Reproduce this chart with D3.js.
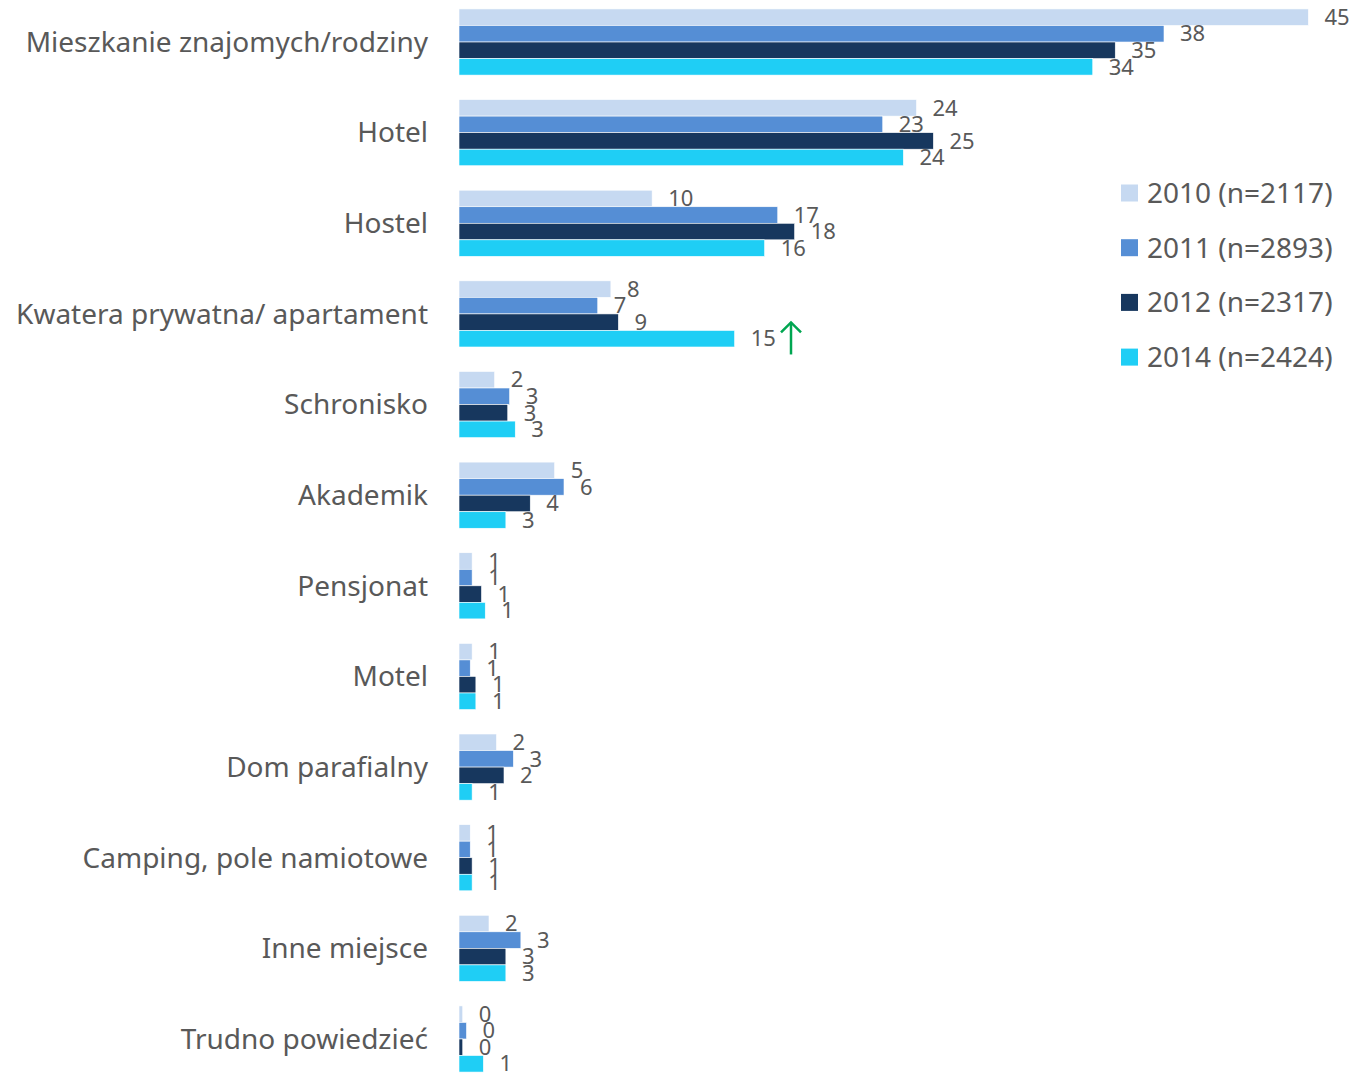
<!DOCTYPE html>
<html>
<head>
<meta charset="utf-8" />
<title>Miejsce noclegu</title>
<script src="https://cdn.jsdelivr.net/npm/d3@7/dist/d3.min.js"></script>
<style>
  body { margin: 0; background: #fff; }
  text { font-family: "Noto Sans", "Open Sans", sans-serif; fill: #595959; }
</style>
</head>
<body>
<script>
  var width = 1360, height = 1073;

  var categories = ["Mieszkanie znajomych/rodziny", "Hotel", "Hostel",
    "Kwatera prywatna/ apartament", "Schronisko", "Akademik", "Pensjonat",
    "Motel", "Dom parafialny", "Camping, pole namiotowe", "Inne miejsce",
    "Trudno powiedzieć"];

  var series = ["2010 (n=2117)", "2011 (n=2893)", "2012 (n=2317)", "2014 (n=2424)"];
  var colors = ["#C6D9F1", "#558ED5", "#17375E", "#1FCEF5"];

  // values, labels show them rounded
  var v2010 = [45.3, 24.4, 10.3, 8.1, 1.9, 5.1, 0.7, 0.7, 2.0, 0.6, 1.6, 0.2];
  var v2011 = [37.6, 22.6, 17.0, 7.4, 2.7, 5.6, 0.7, 0.6, 2.9, 0.6, 3.3, 0.4];
  var v2012 = [35.0, 25.3, 17.9, 8.5, 2.6, 3.8, 1.2, 0.9, 2.4, 0.7, 2.5, 0.2];
  var v2014 = [33.8, 23.7, 16.3, 14.7, 3.0, 2.5, 1.4, 0.9, 0.7, 0.7, 2.5, 1.3];
  var values = [v2010, v2011, v2012, v2014];

  var svg = d3.select("body").append("svg")
      .attr("width", width)
      .attr("height", height);

  var x = d3.scaleLinear().domain([0, 50]).range([459, 459 + 50 * 18.75]);

  var y = d3.scaleBand().domain(categories)
      .range([-3.3, 1084.3])
      .paddingInner(0.27)
      .paddingOuter(0.135);

  var ySub = d3.scaleBand().domain(series).range([0, y.bandwidth()]);

  var groups = svg.selectAll("g.cat")
      .data(categories)
      .enter().append("g")
      .attr("class", "cat")
      .attr("transform", function(d) { return "translate(0," + y(d) + ")"; });

  groups.append("text")
      .attr("x", 428)
      .attr("y", y.bandwidth() / 2)
      .attr("dy", "0.35em")
      .attr("text-anchor", "end")
      .style("font-size", "28px")
      .text(function(d) { return d; });

  groups.each(function(cat, ci) {
    var g = d3.select(this);
    series.forEach(function(s, si) {
      var val = values[si][ci];
      g.append("rect")
        .attr("x", x(0))
        .attr("y", ySub(s))
        .attr("width", x(val) - x(0))
        .attr("height", ySub.bandwidth())
        .attr("fill", colors[si])
        .attr("stroke", "#fff")
        .attr("stroke-width", 0.6);
      g.append("text")
        .attr("x", x(val) + 16)
        .attr("y", ySub(s) + ySub.bandwidth() / 2)
        .attr("dy", "0.35em")
        .style("font-size", "22px")
        .text(Math.round(val));
    });
  });

  // green arrow for Kwatera 2014
  var ka = y(categories[3]) + ySub(series[3]);
  var arrow = svg.append("g").attr("stroke", "#00A651").attr("stroke-width", 2.5)
      .attr("fill", "none");
  arrow.append("line")
      .attr("x1", 791).attr("x2", 791)
      .attr("y1", ka + 24).attr("y2", ka - 8);
  arrow.append("polyline")
      .attr("points", [[781, ka + 2], [791, ka - 8], [801, ka + 2]].map(function(p) { return p.join(","); }).join(" "));

  // legend
  var legend = svg.selectAll("g.leg")
      .data(series)
      .enter().append("g")
      .attr("class", "leg")
      .attr("transform", function(d, i) { return "translate(1121," + (193 + i * 54.7) + ")"; });

  legend.append("rect")
      .attr("x", 0).attr("y", -8.5)
      .attr("width", 17).attr("height", 17)
      .attr("fill", function(d, i) { return colors[i]; });

  legend.append("text")
      .attr("x", 26)
      .attr("dy", "0.35em")
      .style("font-size", "28px")
      .text(function(d) { return d; });
</script>
</body>
</html>
